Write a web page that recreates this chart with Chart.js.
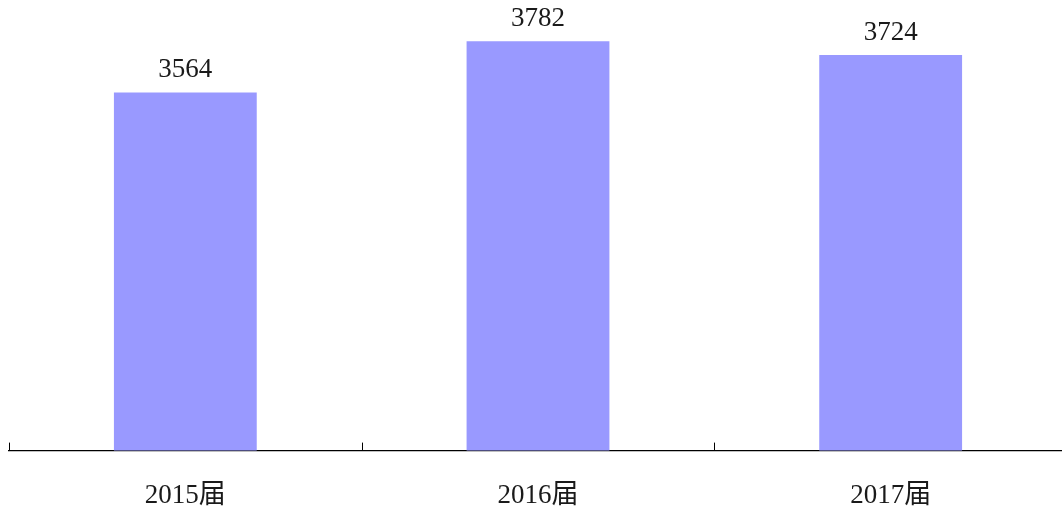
<!DOCTYPE html>
<html>
<head>
<meta charset="utf-8">
<script src="https://cdn.jsdelivr.net/npm/chart.js"></script>
<style>
html,body{margin:0;padding:0;overflow:hidden;background:#fff}
#box{position:relative;width:1067px;height:509px}
</style>
</head>
<body>
<div id="box"><canvas id="canvas"></canvas></div>
<script>
const categories = ['2015届','2016届','2017届'];
const counts = [3564,3782,3724];
const yMin = 2040, yMax = 3958;

const font = '"Liberation Serif","Noto Sans CJK SC",serif';

// value labels above each bar + small upward ticks on the axis
const extras = {
    id:'extras',
    afterDatasetsDraw(chart) {
        let ctx = chart.ctx;
        let meta = chart.getDatasetMeta(0);
        ctx.save();
        ctx.fillStyle = '#1a1a1a';
        ctx.font = '27px ' + font;
        ctx.textAlign = 'center';
        ctx.textBaseline = 'bottom';
        meta.data.forEach((bar,i)=>{
            ctx.fillText(String(counts[i]), bar.x, bar.y - 9);
        });
        let x = chart.scales.x;
        let step = (x.right - x.left) / categories.length;
        ctx.strokeStyle = '#000';
        ctx.lineWidth = 1;
        for (let i = 0; i <= categories.length; i++) {
            let px = Math.round(x.left + i*step) + 0.5;
            ctx.beginPath();
            ctx.moveTo(px, x.top - 8);
            ctx.lineTo(px, x.top);
            ctx.stroke();
        }
        ctx.restore();
    }
};

new Chart(document.getElementById('canvas'), {
    type:'bar',
    data:{
        labels:categories,
        datasets:[{
            data:counts,
            backgroundColor:'#9999ff',
            borderWidth:0,
            categoryPercentage:1,
            barPercentage:0.405
        }]
    },
    options:{
        responsive:true,
        maintainAspectRatio:false,
        animation:false,
        layout:{padding:{left:9,right:0,top:0,bottom:-32}},
        plugins:{legend:{display:false},tooltip:{enabled:false}},
        scales:{
            x:{
                grid:{display:true,drawOnChartArea:false,drawTicks:false},
                border:{display:true,color:'#000',width:1.2},
                ticks:{color:'#1a1a1a',padding:29,font:{family:font,size:27}}
            },
            y:{display:false,min:yMin,max:yMax}
        }
    },
    plugins:[extras]
});
</script>
</body>
</html>
